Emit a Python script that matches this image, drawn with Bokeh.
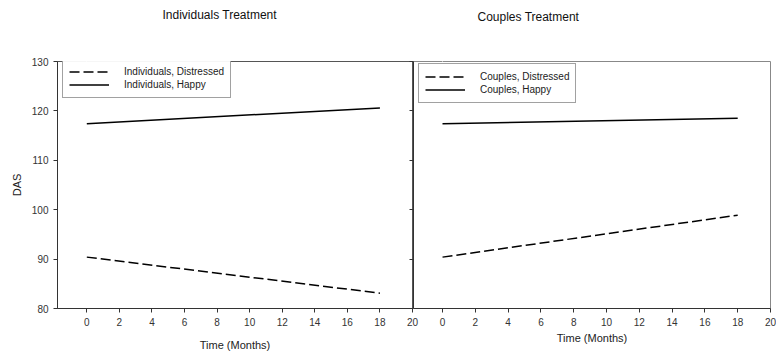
from bokeh.plotting import figure
from bokeh.layouts import row
from bokeh.models import FixedTicker, Range1d, Title, LinearAxis
from bokeh.embed import file_html
from bokeh.resources import INLINE

# ---- data ----
months = [0, 18]
ind_distressed = [90.4, 83.1]
ind_happy = [117.4, 120.6]
cpl_distressed = [90.4, 98.9]
cpl_happy = [117.4, 118.5]

x_ticks = [0, 2, 4, 6, 8, 10, 12, 14, 16, 18, 20]
y_ticks = [80, 90, 100, 110, 120, 130]

FONT = "Liberation Sans"
AX = "#333333"


def style_axes(p):
    for ax in p.xaxis + p.yaxis:
        ax.axis_line_color = AX
        ax.major_tick_line_color = AX
        ax.major_tick_out = 4
        ax.major_tick_in = 0
        ax.minor_tick_line_color = None
        ax.major_label_text_font = FONT
        ax.major_label_text_font_size = "10px"
        ax.major_label_text_color = "#333333"
        ax.axis_label_text_font = FONT
        ax.axis_label_text_font_style = "normal"
        ax.axis_label_text_font_size = "11px"
        ax.axis_label_text_color = "#222222"
    p.xaxis.ticker = FixedTicker(ticks=x_ticks)
    p.yaxis.ticker = FixedTicker(ticks=y_ticks)
    p.xgrid.grid_line_color = None
    p.ygrid.grid_line_color = None


def style_legend(p, loc):
    lg = p.legend[0]
    lg.location = loc
    lg.margin = 0
    lg.padding = 6
    lg.spacing = 0
    lg.glyph_width = 40
    lg.glyph_height = 13
    lg.label_height = 13
    lg.label_standoff = 15
    lg.label_text_font = FONT
    lg.label_text_font_size = "10px"
    lg.label_text_color = "#222222"
    lg.border_line_color = "#444444"
    lg.border_line_width = 1
    lg.background_fill_color = "white"


def add_title(p, text, offset, gap):
    p.title_location = None
    # invisible spacer between the frame and the title (first in "above" = nearest the frame)
    spacer = LinearAxis(ticker=FixedTicker(ticks=[x_ticks[0]]), axis_line_color=None,
                        major_tick_line_color="white", minor_tick_line_color=None,
                        major_tick_out=gap, major_tick_in=0, major_label_standoff=0,
                        major_label_overrides={x_ticks[0]: ""},
                        major_label_text_color=None, major_label_text_font_size="0px")
    p.add_layout(spacer, "above")
    p.add_layout(Title(text=text, align="left", offset=offset, standoff=4,
                       text_font=FONT, text_font_size="12px", text_font_style="normal",
                       text_color="#111111"), "above")


# ---- left panel ----
p1 = figure(width=420, height=356, output_backend="svg", toolbar_location=None,
            x_range=Range1d(-1.8, 20), y_range=Range1d(80, 130),
            min_border_left=57, min_border_right=8, min_border_top=58, min_border_bottom=48)
p1.outline_line_color = "#555555"
p1.line(months, ind_distressed, line_color="black", line_width=1.5, line_dash="10 4",
        legend_label="Individuals, Distressed")
p1.line(months, ind_happy, line_color="black", line_width=1.5,
        legend_label="Individuals, Happy")
p1.xaxis.axis_label = "Time (Months)"
p1.yaxis.axis_label = "DAS"
style_axes(p1)
p1.xaxis.major_label_standoff = 5
p1.xaxis.axis_label_standoff = 10
p1.yaxis.axis_label_standoff = 6
style_legend(p1, (5, 210))
add_title(p1, "Individuals Treatment", 105, 38)

# ---- right panel ----
p2 = figure(width=369, height=356, output_backend="svg", toolbar_location=None,
            x_range=Range1d(-1.77, 20), y_range=Range1d(80, 130),
            min_border_left=6, min_border_right=6, min_border_top=61, min_border_bottom=45)
p2.border_fill_color = None
p2.outline_line_color = "#888888"
p2.line(months, cpl_distressed, line_color="black", line_width=1.5, line_dash="10 4",
        legend_label="Couples, Distressed")
p2.line(months, cpl_happy, line_color="black", line_width=1.5,
        legend_label="Couples, Happy")
p2.xaxis.axis_label = "Time (Months)"
style_axes(p2)
p2.yaxis.major_label_overrides = {t: "" for t in y_ticks}
p2.yaxis.major_label_text_color = None
p2.yaxis.major_label_standoff = 0
p2.xaxis.major_label_standoff = 5
p2.xaxis.axis_label_standoff = 3
style_legend(p2, (5, 205))
add_title(p2, "Couples Treatment", 64, 36)
p2.margin = (0, 0, 0, -13)

layout = row(p1, p2)
open("out.html", "w").write(file_html(layout, INLINE))
